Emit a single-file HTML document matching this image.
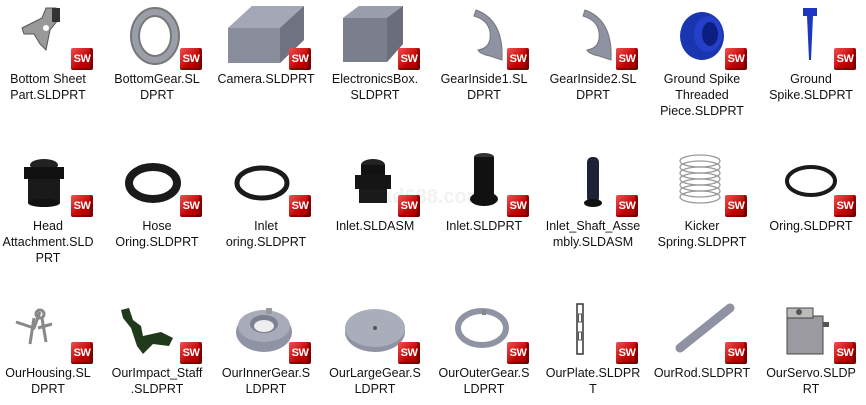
<!DOCTYPE html>
<html><head><meta charset="utf-8"><style>
body{margin:0;width:866px;height:405px;background:#fff;position:relative;overflow:hidden;font-family:"Liberation Sans","Noto Sans CJK SC",sans-serif}
.c{position:absolute;width:108px;height:110px}
.c svg{position:absolute;left:0;top:0}
.b{position:absolute;left:77px;top:48px;width:22px;height:22px;background:linear-gradient(135deg,#f05050,#c00000 60%,#900);color:#fff;font:bold 11px/22px "Liberation Sans",sans-serif;text-align:center;letter-spacing:-0.5px;border-radius:2px;box-shadow:inset -3px -2px 0 rgba(0,0,0,.25)}
.t{position:absolute;left:-10px;top:71px;width:128px;text-align:center;font-size:12.5px;line-height:16px;color:#111;white-space:nowrap}
.wm{position:absolute;left:370px;top:186px;font:bold 20px "Liberation Sans",sans-serif;color:#f2f2f2}
</style></head><body>
<div class="wm">cad688.com</div>

<!-- Row 1 -->
<div class="c" style="left:-6px;top:0">
<svg width="108" height="70"><path d="M28 28 L48 18 L52 8 L62 8 L64 20 L56 30 L52 50 L46 44 L40 34 L30 34 Z" fill="#999" stroke="#555"/><rect x="58" y="8" width="8" height="14" fill="#333"/><circle cx="52" cy="28" r="3" fill="#fff"/></svg>
<div class="b">SW</div><div class="t">Bottom Sheet<br>Part.SLDPRT</div></div>

<div class="c" style="left:103px;top:0">
<svg width="108" height="70"><ellipse cx="52" cy="36" rx="20" ry="24" fill="none" stroke="#777" stroke-width="10"/><ellipse cx="52" cy="36" rx="20" ry="24" fill="none" stroke="#9a9ea8" stroke-width="6"/></svg>
<div class="b">SW</div><div class="t">BottomGear.SL<br>DPRT</div></div>

<div class="c" style="left:212px;top:0">
<svg width="108" height="70"><polygon points="16,28 40,6 92,6 92,40 68,63 16,63" fill="#8a8d9c"/><polygon points="16,28 40,6 92,6 68,28" fill="#a4a7b5"/><polygon points="68,28 92,6 92,40 68,63" fill="#6f7280"/></svg>
<div class="b">SW</div><div class="t">Camera.SLDPRT</div></div>

<div class="c" style="left:321px;top:0">
<svg width="108" height="70"><polygon points="22,18 38,6 82,6 82,44 66,62 22,62" fill="#7b7e8c"/><polygon points="22,18 38,6 82,6 66,18" fill="#9a9dab"/><polygon points="66,18 82,6 82,44 66,62" fill="#6a6d7a"/></svg>
<div class="b">SW</div><div class="t">ElectronicsBox.<br>SLDPRT</div></div>

<div class="c" style="left:430px;top:0">
<svg width="108" height="70"><path d="M46 10 Q74 20 72 60 L60 56 Q50 54 48 50 Q62 48 60 32 Q58 20 44 16 Z" fill="#8e92a2" stroke="#777"/></svg>
<div class="b">SW</div><div class="t">GearInside1.SL<br>DPRT</div></div>

<div class="c" style="left:539px;top:0">
<svg width="108" height="70"><path d="M46 10 Q74 20 72 60 L60 56 Q50 54 48 50 Q62 48 60 32 Q58 20 44 16 Z" fill="#8e92a2" stroke="#777"/></svg>
<div class="b">SW</div><div class="t">GearInside2.SL<br>DPRT</div></div>

<div class="c" style="left:648px;top:0">
<svg width="108" height="70"><ellipse cx="54" cy="36" rx="22" ry="24" fill="#1a35b0"/><ellipse cx="60" cy="34" rx="14" ry="18" fill="#2540c8"/><ellipse cx="62" cy="34" rx="8" ry="12" fill="#0c1f80"/></svg>
<div class="b">SW</div><div class="t">Ground Spike<br>Threaded<br>Piece.SLDPRT</div></div>

<div class="c" style="left:757px;top:0">
<svg width="108" height="70"><rect x="46" y="8" width="14" height="8" fill="#1c38c0"/><polygon points="50,16 56,16 54,60 52,60" fill="#1c38c0"/></svg>
<div class="b">SW</div><div class="t">Ground<br>Spike.SLDPRT</div></div>

<!-- Row 2 -->
<div class="c" style="left:-6px;top:147px">
<svg width="108" height="70"><ellipse cx="50" cy="18" rx="14" ry="6" fill="#222"/><rect x="30" y="20" width="40" height="12" fill="#111"/><rect x="34" y="32" width="32" height="24" fill="#1a1a1a"/><ellipse cx="50" cy="56" rx="16" ry="4" fill="#111"/></svg>
<div class="b">SW</div><div class="t">Head<br>Attachment.SLD<br>PRT</div></div>

<div class="c" style="left:103px;top:147px">
<svg width="108" height="70"><ellipse cx="50" cy="36" rx="24" ry="16" fill="none" stroke="#1a1a1a" stroke-width="8"/></svg>
<div class="b">SW</div><div class="t">Hose<br>Oring.SLDPRT</div></div>

<div class="c" style="left:212px;top:147px">
<svg width="108" height="70"><ellipse cx="50" cy="36" rx="25" ry="15" fill="none" stroke="#1a1a1a" stroke-width="5"/></svg>
<div class="b">SW</div><div class="t">Inlet<br>oring.SLDPRT</div></div>

<div class="c" style="left:321px;top:147px">
<svg width="108" height="70"><ellipse cx="52" cy="18" rx="12" ry="6" fill="#222"/><rect x="40" y="18" width="24" height="10" fill="#111"/><rect x="34" y="28" width="36" height="14" fill="#151515"/><rect x="38" y="42" width="28" height="14" fill="#1a1a1a"/></svg>
<div class="b">SW</div><div class="t">Inlet.SLDASM</div></div>

<div class="c" style="left:430px;top:147px">
<svg width="108" height="70"><ellipse cx="54" cy="10" rx="10" ry="4" fill="#333"/><rect x="44" y="10" width="20" height="40" fill="#111"/><ellipse cx="54" cy="52" rx="14" ry="7" fill="#111"/></svg>
<div class="b">SW</div><div class="t">Inlet.SLDPRT</div></div>

<div class="c" style="left:539px;top:147px">
<svg width="108" height="70"><rect x="48" y="10" width="12" height="46" rx="5" fill="#1d2238"/><ellipse cx="54" cy="56" rx="9" ry="4" fill="#111"/></svg>
<div class="b">SW</div><div class="t">Inlet_Shaft_Asse<br>mbly.SLDASM</div></div>

<div class="c" style="left:648px;top:147px">
<svg width="108" height="70" fill="none" stroke="#999" stroke-width="1.3"><ellipse cx="52" cy="14" rx="20" ry="6"/><ellipse cx="52" cy="20" rx="20" ry="6"/><ellipse cx="52" cy="26" rx="20" ry="6"/><ellipse cx="52" cy="32" rx="20" ry="6"/><ellipse cx="52" cy="38" rx="20" ry="6"/><ellipse cx="52" cy="44" rx="20" ry="6"/><ellipse cx="52" cy="50" rx="20" ry="6"/></svg>
<div class="b">SW</div><div class="t">Kicker<br>Spring.SLDPRT</div></div>

<div class="c" style="left:757px;top:147px">
<svg width="108" height="70"><ellipse cx="54" cy="34" rx="24" ry="14" fill="none" stroke="#1a1a1a" stroke-width="4"/></svg>
<div class="b">SW</div><div class="t">Oring.SLDPRT</div></div>

<!-- Row 3 -->
<div class="c" style="left:-6px;top:294px">
<svg width="108" height="70" stroke="#888" stroke-width="3" fill="none"><path d="M22 28 L40 34 L46 18"/><path d="M40 24 L36 50 M48 24 L52 48 M44 34 L58 30"/><circle cx="46" cy="20" r="4"/></svg>
<div class="b">SW</div><div class="t">OurHousing.SL<br>DPRT</div></div>

<div class="c" style="left:103px;top:294px">
<svg width="108" height="70"><path d="M18 16 L26 14 L30 26 L38 32 L40 42 L58 38 L70 44 L66 52 L50 50 L40 60 L34 52 L28 34 L20 24 Z" fill="#1f3a1a"/></svg>
<div class="b">SW</div><div class="t">OurImpact_Staff<br>.SLDPRT</div></div>

<div class="c" style="left:212px;top:294px">
<svg width="108" height="70"><ellipse cx="52" cy="38" rx="28" ry="20" fill="#8f93a3"/><ellipse cx="52" cy="32" rx="26" ry="16" fill="#a8abb8"/><ellipse cx="52" cy="30" rx="14" ry="9" fill="#7c8090"/><ellipse cx="52" cy="32" rx="10" ry="6" fill="#eee"/><rect x="54" y="14" width="6" height="6" fill="#999"/></svg>
<div class="b">SW</div><div class="t">OurInnerGear.S<br>LDPRT</div></div>

<div class="c" style="left:321px;top:294px">
<svg width="108" height="70"><ellipse cx="54" cy="38" rx="30" ry="20" fill="#8f93a3"/><ellipse cx="54" cy="34" rx="30" ry="19" fill="#aaadba"/><circle cx="54" cy="34" r="2" fill="#555"/></svg>
<div class="b">SW</div><div class="t">OurLargeGear.S<br>LDPRT</div></div>

<div class="c" style="left:430px;top:294px">
<svg width="108" height="70"><ellipse cx="52" cy="34" rx="24" ry="17" fill="none" stroke="#8f93a3" stroke-width="6"/><rect x="52" y="16" width="4" height="5" fill="#888"/></svg>
<div class="b">SW</div><div class="t">OurOuterGear.S<br>LDPRT</div></div>

<div class="c" style="left:539px;top:294px">
<svg width="108" height="70"><rect x="38" y="10" width="6" height="50" fill="none" stroke="#333" stroke-width="1.5"/><rect x="39.5" y="20" width="3" height="8" fill="#fff" stroke="#555"/><rect x="39.5" y="38" width="3" height="8" fill="#fff" stroke="#555"/></svg>
<div class="b">SW</div><div class="t">OurPlate.SLDPR<br>T</div></div>

<div class="c" style="left:648px;top:294px">
<svg width="108" height="70"><line x1="32" y1="54" x2="82" y2="14" stroke="#8e92a2" stroke-width="9" stroke-linecap="round"/></svg>
<div class="b">SW</div><div class="t">OurRod.SLDPRT</div></div>

<div class="c" style="left:757px;top:294px">
<svg width="108" height="70"><rect x="30" y="22" width="36" height="38" fill="#9a9aa0" stroke="#444"/><rect x="30" y="14" width="26" height="10" fill="#bbb" stroke="#444"/><circle cx="42" cy="18" r="3" fill="#555"/><rect x="66" y="28" width="6" height="5" fill="#555"/></svg>
<div class="b">SW</div><div class="t">OurServo.SLDP<br>RT</div></div>
</body></html>
